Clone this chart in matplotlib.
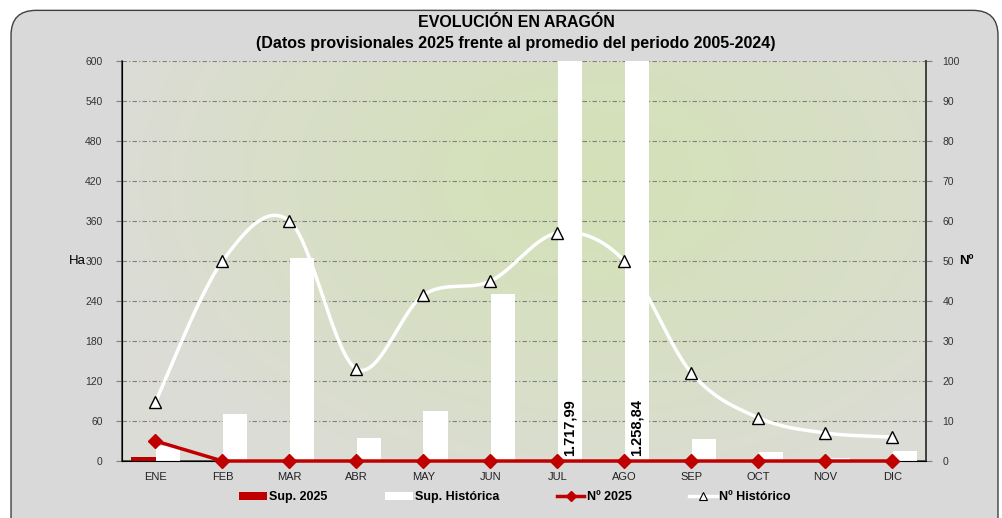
import numpy as np
import matplotlib
matplotlib.use('Agg')
import matplotlib.pyplot as plt
from matplotlib.patches import FancyBboxPatch
from matplotlib.lines import Line2D
from matplotlib.patches import Patch

plt.rcParams['font.family'] = ['Liberation Sans', 'DejaVu Sans']

meses = ['ENE', 'FEB', 'MAR', 'ABR', 'MAY', 'JUN', 'JUL', 'AGO', 'SEP', 'OCT', 'NOV', 'DIC']
sup_2025 = [6, 0, 0, 0, 0, 0, 0, 0, 0, 0, 0, 0]
sup_hist = [23, 70, 305, 35, 75, 250, 1717.99, 1258.84, 33, 13, 4, 15]
num_2025 = [5, 0, 0, 0, 0, 0, 0, 0, 0, 0, 0, 0]
num_hist = [14.8, 50, 60, 23, 41.5, 45, 57, 50, 22, 10.8, 7, 6]
etiquetas = {6: '1.717,99', 7: '1.258,84'}

rojo = '#c00000'
x = np.arange(len(meses))


def suavizar(xs, ys, n=30):
    # curva tipo excel (bezier con puntos de control catmull-rom)
    xs = np.asarray(xs, float)
    ys = np.asarray(ys, float)
    px = np.concatenate([[xs[0]], xs, [xs[-1]]])
    py = np.concatenate([[ys[0]], ys, [ys[-1]]])
    ox, oy = [], []
    t = np.linspace(0, 1, n)
    for i in range(1, len(px) - 2):
        p0 = np.array([px[i], py[i]])
        p3 = np.array([px[i + 1], py[i + 1]])
        c1 = p0 + (np.array([px[i + 1], py[i + 1]]) - np.array([px[i - 1], py[i - 1]])) / 6
        c2 = p3 - (np.array([px[i + 2], py[i + 2]]) - p0) / 6
        b = ((1 - t) ** 3)[:, None] * p0 + (3 * (1 - t) ** 2 * t)[:, None] * c1 \
            + (3 * (1 - t) * t ** 2)[:, None] * c2 + (t ** 3)[:, None] * p3
        ox.extend(b[:, 0])
        oy.extend(b[:, 1])
    return np.array(ox), np.array(oy)


fig = plt.figure(figsize=(10.02, 5.18), dpi=100)
fig.patch.set_facecolor('white')
marco = FancyBboxPatch((0.011, -0.05), 0.985, 1.03, boxstyle='round,pad=0,rounding_size=0.025',
                       transform=fig.transFigure, facecolor='#d9d9d9', edgecolor='#404040',
                       linewidth=1.0, zorder=-10, mutation_aspect=1.93)
fig.patches.append(marco)

ax = fig.add_axes([122 / 1002, 1 - 461 / 518, 804 / 1002, 400 / 518])
ax.set_facecolor('none')

# fondo degradado del area de trazado
gx, gy = np.meshgrid(np.linspace(0, 1, 300), np.linspace(0, 1, 200))
d = np.sqrt(((gx - 0.58) / 0.62) ** 2 + ((gy - 0.7) / 0.85) ** 2)
d = np.clip(d, 0, 1) ** 1.3
c_centro = np.array([212, 225, 184]) / 255
c_borde = np.array([220, 220, 214]) / 255
img = c_centro[None, None, :] * (1 - d[..., None]) + c_borde[None, None, :] * d[..., None]
ax.imshow(img, extent=[0, 1, 0, 1], transform=ax.transAxes, origin='lower',
          aspect='auto', zorder=0)

ax.set_xlim(-0.5, len(meses) - 0.5)
ax.set_ylim(0, 600)
ax.set_yticks(np.arange(0, 601, 60))
ax.grid(axis='y', color='#808080', linestyle=(0, (4, 2, 1, 2)), linewidth=0.8, zorder=1)
ax.set_axisbelow(True)

w = 0.37
ax.bar(x - w / 2, sup_2025, width=w, color=rojo, zorder=3)
ax.bar(x + w / 2, sup_hist, width=w, color='white', zorder=3)
for i, txt in etiquetas.items():
    ax.text(x[i] + w / 2, 8, txt, rotation=90, ha='center', va='bottom',
            fontsize=10.5, fontweight='bold', color='black', zorder=4)

ax.set_xticks(x)
ax.set_xticklabels(meses, fontsize=8, color='#222222')
ax.tick_params(axis='x', length=0, pad=8)
ax.tick_params(axis='y', labelsize=7.5, labelcolor='#333333', length=4, color='#808080', pad=10)
for s in ['top']:
    ax.spines[s].set_visible(False)
for s in ['left', 'right', 'bottom']:
    ax.spines[s].set_color('#404040')
    ax.spines[s].set_linewidth(1.2)
ax.set_ylabel('Ha', rotation=0, fontsize=9.5, labelpad=8, va='center')
ax.yaxis.set_label_coords(-0.055, 0.5)

ax2 = ax.twinx()
ax2.set_ylim(0, 100)
ax2.set_yticks(np.arange(0, 101, 10))
ax2.tick_params(axis='y', labelsize=7.5, labelcolor='#333333', length=4, color='#808080', pad=8)
ax2.spines['top'].set_visible(False)
ax2.spines['right'].set_color('#404040')
ax2.spines['right'].set_linewidth(1.2)
ax2.set_ylabel('Nº', rotation=0, fontsize=9.5, fontweight='bold', va='center')
ax2.yaxis.set_label_coords(1.05, 0.5)

sx, sy = suavizar(x, num_hist)
ax2.plot(sx, sy, color='white', linewidth=2.5, zorder=4)
ax2.plot(x, num_hist, linestyle='none', marker='^', markersize=9, markerfacecolor='white',
         markeredgecolor='black', markeredgewidth=1, zorder=5)
ax2.plot(x, num_2025, color=rojo, linewidth=2.5, marker='D', markersize=7, zorder=6,
         clip_on=False)

fig.text(0.515, 0.957, 'EVOLUCIÓN EN ARAGÓN', ha='center', va='center',
         fontsize=11.5, fontweight='bold')
fig.text(0.515, 0.916, '(Datos provisionales 2025 frente al promedio del periodo 2005-2024)',
         ha='center', va='center', fontsize=11.5, fontweight='bold')

handles = [
    Patch(facecolor=rojo, edgecolor='none'),
    Patch(facecolor='white', edgecolor='none'),
    Line2D([], [], color=rojo, linewidth=2.5, marker='D', markersize=5),
    Line2D([], [], color='white', linewidth=2.5, marker='^', markersize=6,
           markerfacecolor='white', markeredgecolor='black', markeredgewidth=0.8),
]
nombres = ['Sup. 2025', 'Sup. Histórica', 'Nº 2025', 'Nº Histórico']
leg = fig.legend(handles, nombres, loc='center', bbox_to_anchor=(0.514, 0.04), ncol=4,
                 frameon=False, prop={'weight': 'bold', 'size': 9}, columnspacing=4.6,
                 handlelength=2.2, handletextpad=0.2, handleheight=0.7)

fig.savefig('out.png', dpi=100)
